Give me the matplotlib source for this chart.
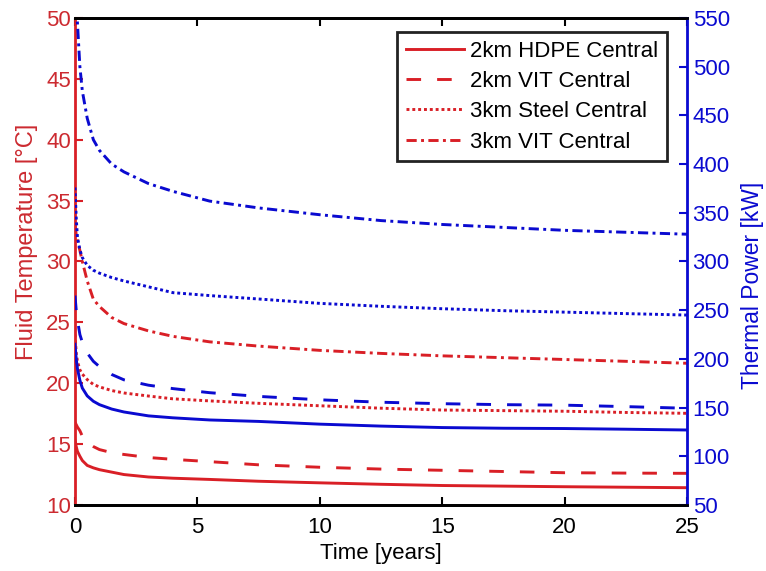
import matplotlib
matplotlib.use("Agg")
import matplotlib.pyplot as plt

plt.rcParams["font.family"] = ["Liberation Sans", "DejaVu Sans"]

RED = "#d91f26"
RED_TXT = "#cc2a30"
BLUE = "#0a0ad0"

time_years = [0, 0.05, 0.1, 0.2, 0.3, 0.5, 0.75, 1.0, 1.5, 2, 3, 4, 5.5, 7.5,
              10, 12.5, 15, 17.5, 20, 22.5, 25]

# fluid temperature [degC]
temp_hdpe_2km = [15.3, 14.8, 14.4, 14.0, 13.65, 13.25, 13.05, 12.9, 12.7, 12.5, 12.3,
                 12.2, 12.1, 11.95, 11.82, 11.7, 11.6, 11.55, 11.5, 11.46, 11.42]
temp_vit_2km = [16.8, 16.6, 16.4, 16.1, 15.65, 15.15, 14.8, 14.55, 14.3, 14.15, 13.9,
                13.75, 13.56, 13.3, 13.1, 12.95, 12.85, 12.75, 12.65, 12.62, 12.6]
temp_steel_3km = [24.0, 22.5, 21.8, 21.1, 20.75, 20.3, 19.9, 19.7, 19.4, 19.2, 18.95,
                  18.72, 18.55, 18.35, 18.15, 17.95, 17.8, 17.75, 17.7, 17.6, 17.53]
temp_vit_3km = [33.0, 32.2, 31.7, 30.9, 30.0, 28.4, 26.9, 26.3, 25.4, 24.9, 24.3,
                23.85, 23.4, 23.05, 22.7, 22.45, 22.25, 22.1, 21.95, 21.8, 21.64]

# thermal power [kW]
power_hdpe_2km = [215, 200, 190, 178, 170, 162, 156.5, 153, 148.5, 145.5, 141.5,
                  139.5, 137.3, 135.8, 133, 131, 129.5, 128.8, 128.5, 127.8, 127]
power_vit_2km = [265, 250, 240, 225, 217, 206, 197.5, 192, 184, 178.5, 173,
                 169.5, 165.3, 161.5, 158, 155.5, 154, 153, 152.5, 151, 149.3]
power_steel_3km = [376, 345, 325, 312, 304, 296, 291, 288, 283.5, 280, 274,
                   268, 265, 261.5, 257, 254, 251.5, 249.5, 248, 246.5, 245]
power_vit_3km = [560, 560, 545, 500, 475, 447, 425, 414, 400, 392, 380,
                 372, 362, 355, 348, 342, 338, 335, 332, 330, 328]

labels = ["2km HDPE Central", "2km VIT Central", "3km Steel Central", "3km VIT Central"]
styles = ["-", (0, (5, 5.5)), (0, (1, 1)), (0, (3.5, 1.5, 1, 1.5))]

fig = plt.figure(figsize=(7.66, 5.71), dpi=100)
ax = fig.add_axes([0.0979, 0.1156, 0.7990, 0.8529])
ax2 = ax.twinx()

lw = 2.1
handles = []
for vals, ls, lab in zip([temp_hdpe_2km, temp_vit_2km, temp_steel_3km, temp_vit_3km], styles, labels):
    (h,) = ax.plot(time_years, vals, color=RED, linestyle=ls, linewidth=lw, label=lab)
    handles.append(h)
for vals, ls in zip([power_hdpe_2km, power_vit_2km, power_steel_3km, power_vit_3km], styles):
    ax2.plot(time_years, vals, color=BLUE, linestyle=ls, linewidth=lw)

ax.set_xlim(0, 25)
ax.set_ylim(10, 50)
ax2.set_ylim(50, 550)
ax.set_xticks([0, 5, 10, 15, 20, 25])
ax.set_yticks(range(10, 51, 5))
ax2.set_yticks(range(50, 551, 50))

fs = 16
ax.tick_params(axis="x", direction="in", length=6, width=1.5, top=True, labelsize=fs,
               colors="black", pad=9)
ax.tick_params(axis="y", direction="in", length=6, width=1.5, labelsize=fs, colors=RED,
               labelcolor=RED_TXT, pad=3)
ax2.tick_params(axis="y", direction="in", length=6, width=1.5, labelsize=fs, colors=BLUE,
                labelcolor=BLUE, pad=4)

for a in (ax, ax2):
    for s in a.spines.values():
        s.set_linewidth(2.0)
ax2.spines["left"].set_visible(False)
ax.spines["left"].set_color(RED)
ax2.spines["right"].set_color(BLUE)
ax.spines["right"].set_visible(False)

ax.set_xlabel("Time [years]", fontsize=fs, labelpad=3)
ax.set_ylabel("Fluid Temperature [°C]", fontsize=17, color=RED_TXT)
ax2.set_ylabel("Thermal Power [kW]", fontsize=16.5, color=BLUE)
ax.yaxis.set_label_coords(-0.061, 0.54)
ax2.yaxis.set_label_coords(1.088, 0.45)

leg = ax2.legend(handles=handles, loc="upper right", bbox_to_anchor=(0.968, 0.972),
                 fontsize=16, frameon=True, fancybox=False, borderpad=0.4,
                 handlelength=2.6, handletextpad=0.3, labelspacing=0.42, borderaxespad=0)
leg.get_frame().set_edgecolor("#222222")
leg.get_frame().set_linewidth(2.0)
leg.get_frame().set_alpha(1)

fig.savefig("out.png", dpi=100)
